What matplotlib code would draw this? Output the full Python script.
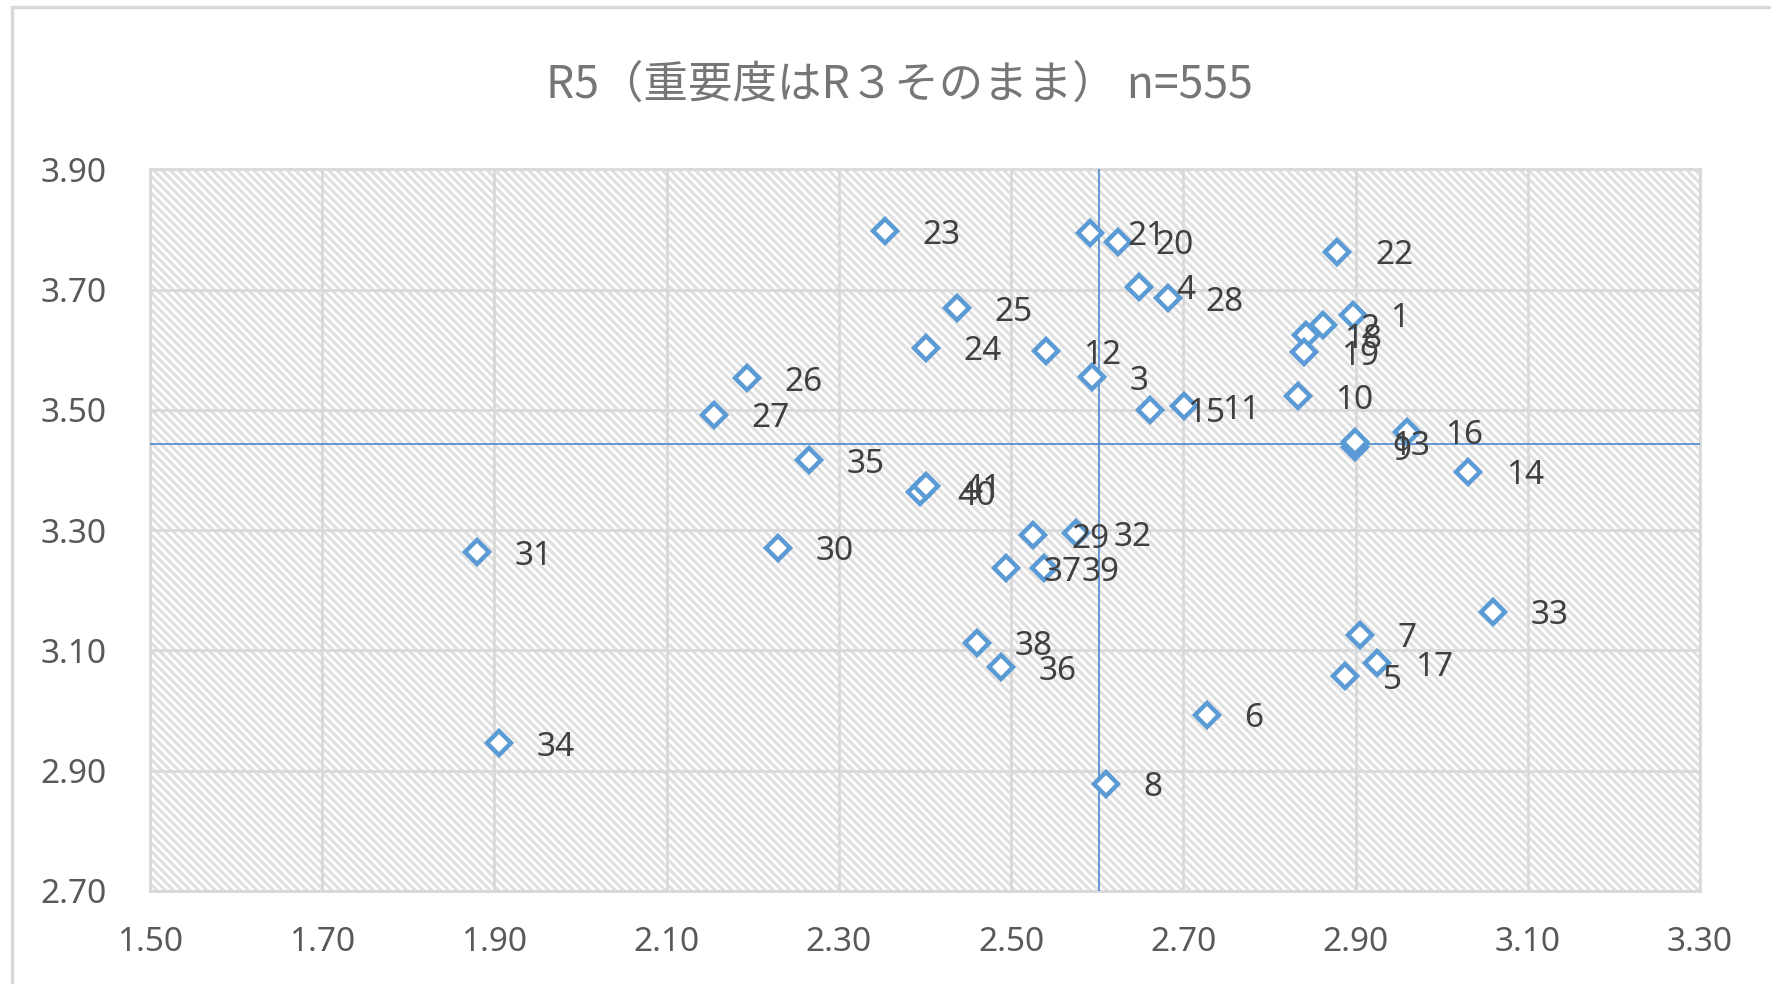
import matplotlib
matplotlib.use("Agg")
import matplotlib.pyplot as plt
from matplotlib.patches import Rectangle
import numpy as np

plt.rcParams['font.family'] = ['Noto Sans', 'Noto Sans CJK JP', 'DejaVu Sans']
plt.rcParams['hatch.linewidth'] = 2.2

# ---- data ----
title = "R5（重要度はR３そのまま） n=555"
ids = [str(i) for i in range(1, 42)]
xs = [2.897, 2.862, 2.594, 2.648, 2.888, 2.727, 2.905, 2.610, 2.899, 2.833,
      2.701, 2.540, 2.899, 3.031, 2.661, 2.960, 2.925, 2.843, 2.840, 2.624,
      2.592, 2.879, 2.353, 2.401, 2.437, 2.193, 2.155, 2.682, 2.526, 2.229,
      1.880, 2.575, 3.060, 1.905, 2.265, 2.488, 2.494, 2.460, 2.538, 2.394,
      2.401]
ys = [3.658, 3.641, 3.554, 3.705, 3.057, 2.993, 3.126, 2.878, 3.438, 3.523,
      3.506, 3.598, 3.446, 3.397, 3.500, 3.464, 3.079, 3.624, 3.596, 3.780,
      3.795, 3.763, 3.797, 3.603, 3.669, 3.553, 3.492, 3.686, 3.292, 3.271,
      3.263, 3.295, 3.164, 2.946, 3.416, 3.072, 3.237, 3.113, 3.237, 3.363,
      3.374]
mean_x = 2.602
mean_y = 3.444
xticks = [1.50, 1.70, 1.90, 2.10, 2.30, 2.50, 2.70, 2.90, 3.10, 3.30]
yticks = [2.70, 2.90, 3.10, 3.30, 3.50, 3.70, 3.90]

# ---- figure ----
fig = plt.figure(figsize=(17.71, 9.84), dpi=100)
fig.patch.set_facecolor('white')
# outer chart border (left/top visible)
fig.add_artist(Rectangle((12 / 1771, -0.05), 1.1, 1.05 - 7 / 984,
                         transform=fig.transFigure, fill=False,
                         edgecolor='#D9D9D9', lw=2.5))

ax = fig.add_axes([150 / 1771, 1 - 891 / 984, (1700 - 150) / 1771, (891 - 169.4) / 984])
ax.set_xlim(1.5, 3.3)
ax.set_ylim(2.7, 3.9)

# hatched plot area
ax.add_patch(Rectangle((0, 0), 1, 1, transform=ax.transAxes, facecolor='white',
                       edgecolor='#E0E0E0', hatch='\\\\\\\\', lw=0, zorder=0))

ax.set_xticks(xticks)
ax.set_yticks(yticks)
ax.set_xticklabels([f"{v:.2f}" for v in xticks])
ax.set_yticklabels([f"{v:.2f}" for v in yticks])
ax.tick_params(length=0, labelsize=24, labelcolor='#595959')
ax.tick_params(axis='x', pad=25)
ax.tick_params(axis='y', pad=31)
ax.grid(True, color='#D9D9D9', lw=2.0, zorder=1)
ax.set_axisbelow(True)
for s in ax.spines.values():
    s.set_color('#D9D9D9')
    s.set_linewidth(2.0)
    s.set_zorder(1)

ax.axvline(mean_x, color='#4A89D0', lw=1.2, zorder=2)
ax.axhline(mean_y, color='#4A89D0', lw=1.2, zorder=2)

ax.plot(xs, ys, linestyle='none', marker='D', markersize=12,
        markerfacecolor='white', markeredgecolor='#5B9BD5', markeredgewidth=3.2,
        zorder=3)
for lab, x, y in zip(ids, xs, ys):
    ax.annotate(lab, (x, y), xytext=(27, 0), textcoords='offset points',
                ha='left', va='center_baseline', fontsize=24, color='#404040',
                zorder=4)

fig.text(0.508, 1 - 85 / 984, title, ha='center', va='center', fontsize=32,
         color='#767676', family=['Noto Sans CJK JP', 'DejaVu Sans'])

fig.savefig('out.png', dpi=100, facecolor='white')
